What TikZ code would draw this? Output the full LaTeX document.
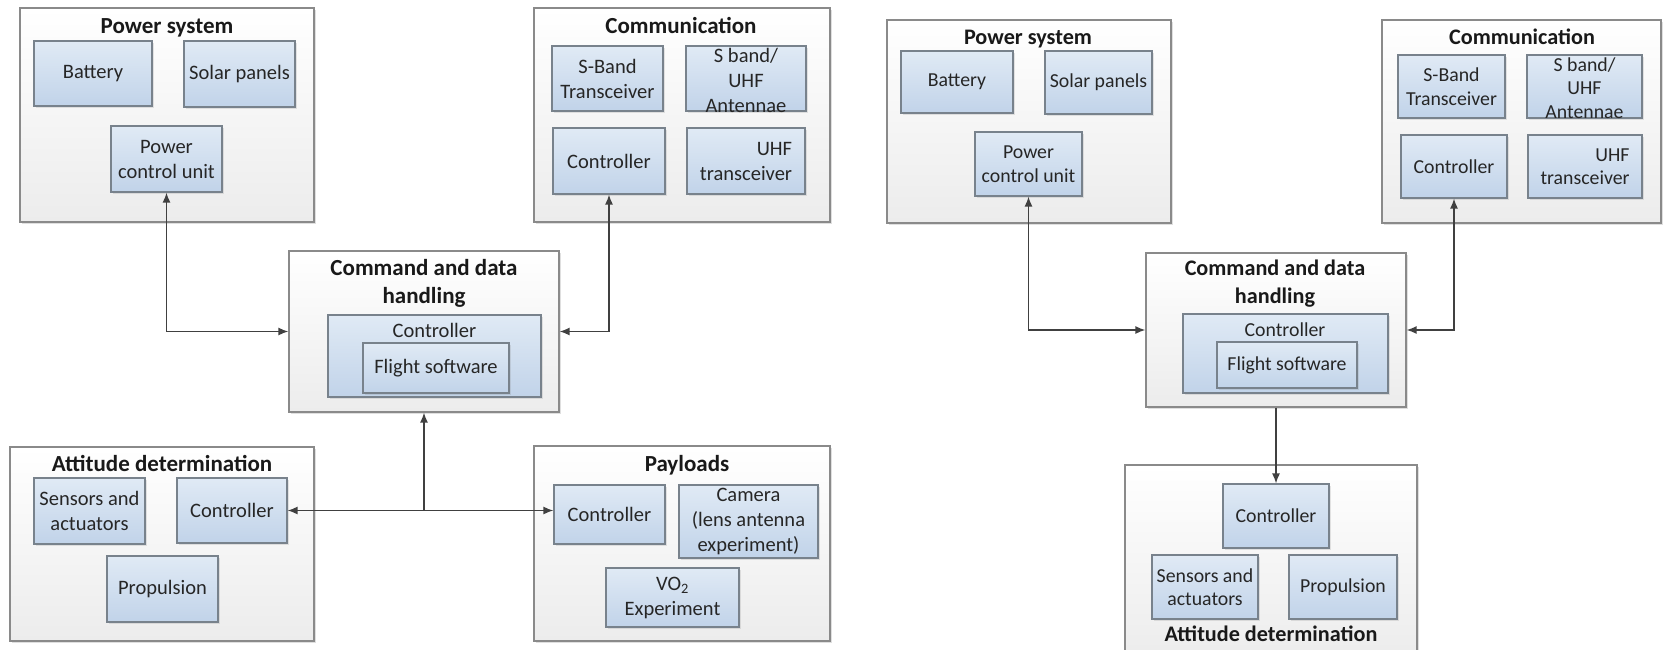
\documentclass[tikz,border=0pt]{standalone}
\usepackage{fontspec}
\setmainfont{Carlito}
\usepackage{tikz}
\usetikzlibrary{arrows.meta,shadows}
\definecolor{frameGrey}{RGB}{138,138,138}
\definecolor{panelBottom}{RGB}{236,236,236}
\definecolor{unitTop}{RGB}{224,234,245}
\definecolor{unitBottom}{RGB}{193,211,233}
\definecolor{unitEdge}{RGB}{120,130,140}
\definecolor{linkGrey}{RGB}{64,64,64}
\newcommand{\unitFont}[0]{\fontsize{20.5}{25}\selectfont}
\newcommand{\titleFont}[0]{\fontsize{23}{28}\selectfont\bfseries}
\newcommand{\unitFontR}[0]{\fontsize{19.8}{23.5}\selectfont}
\newcommand{\titleFontR}[0]{\fontsize{22.2}{28}\selectfont\bfseries}

\begin{document}
\begin{tikzpicture}[x=1pt, y=-1pt]
  \tikzset{panel/.style={draw=frameGrey, line width=1.2pt, top color=white, bottom color=panelBottom,
      drop shadow={shadow xshift=2pt, shadow yshift=-2pt, opacity=0.25}, inner sep=0pt},
    unit/.style={draw=unitEdge, line width=1.1pt, top color=unitTop, bottom color=unitBottom,
      drop shadow={shadow xshift=1.5pt, shadow yshift=-1.5pt, opacity=0.2},
      align=center, font=\unitFont, text=black!85, inner sep=0pt},
    heading/.style={font=\titleFont, text=black!90, align=center, anchor=base, inner sep=0pt},
    caption/.style={font=\unitFont, text=black!85, align=center, inner sep=0pt},
    link/.style={draw=linkGrey, line width=1.5pt, >={Latex[length=10pt,width=8pt]}}}
  \useasboundingbox (0,0) rectangle (1663,649);
  \fill[white] (0,0) rectangle (1663,649);

  \node[panel, minimum width=294, minimum height=214] (PWR-1) at (167,115) {};
  \node[panel, minimum width=296, minimum height=214] (COM-1) at (682,115) {};
  \node[panel, minimum width=270, minimum height=161] (CDH-1) at (424,331.5) {};
  \node[panel, minimum width=304, minimum height=194] (ADC-1) at (162,544) {};
  \node[panel, minimum width=296, minimum height=195] (PAY-1) at (682,543.5) {};
  \node[heading] (PWR-1-t) at (167,33) {Power system};
  \node[heading] (COM-1-t) at (681,33) {Communication};
  \node[heading] (CDH-1-t) at (424,303) {Command and data\\handling};
  \node[heading] (ADC-1-t) at (162,471) {Attitude determination};
  \node[heading] (PAY-1-t) at (687,471) {Payloads};
  \node[unit, minimum width=118, minimum height=65] (BAT-1) at (93,73.5) {Battery};
  \node[unit, minimum width=111, minimum height=66] (SOL-1) at (239.5,74) {Solar panels};
  \node[unit, minimum width=111, minimum height=66] (PCU-1) at (166.5,159) {Power\\control unit};
  \node[unit, minimum width=111, minimum height=65] (SBT-1) at (607.5,78.5) {S-Band\\Transceiver};
  \node[unit, minimum width=120, minimum height=65] (ANT-1) at (746,78.5) {};
  \node[caption] (ANT-1-t) at (746,80) {S band/\\UHF\hspace*{48pt}\\Antennae};
  \node[unit, minimum width=112, minimum height=66] (CTL-1) at (609,161) {Controller};
  \node[unit, minimum width=118, minimum height=66, align=right] (UHF-1) at (746,161) {UHF\\transceiver};
  \node[unit, minimum width=213, minimum height=82] (OBC-1) at (434.5,356) {};
  \node[caption, anchor=base] (OBC-1-t) at (434.5,337) {Controller};
  \node[unit, minimum width=146, minimum height=50] (FSW-1) at (436,368) {Flight software};
  \node[unit, minimum width=111, minimum height=66] (SEN-1) at (89.5,511) {Sensors and\\actuators};
  \node[unit, minimum width=110, minimum height=65] (ACS-1) at (232,510.5) {Controller};
  \node[unit, minimum width=111, minimum height=66] (PRP-1) at (162.5,589) {Propulsion};
  \node[unit, minimum width=111, minimum height=59] (PLC-1) at (609.5,514.5) {Controller};
  \node[unit, minimum width=139, minimum height=73] (CAM-1) at (748.5,521.5) {Camera\\(lens antenna\\experiment)};
  \node[unit, minimum width=133, minimum height=59] (VO2-1) at (672.5,597.5) {VO\textsubscript{2}\\Experiment};
  \coordinate (JN-1) at (ACS-1.east -| CDH-1.south);
  \draw[link, <->] (PCU-1.south) |- (CDH-1.west);
  \draw[link, <->] (CTL-1.south) |- (CDH-1.east);
  \draw[link, <->] (ACS-1.east) -- (ACS-1.east -| PLC-1.west);
  \draw[link, ->] (JN-1) -- (CDH-1.south);

  \begin{scope}[unit/.append style={font=\unitFontR}, caption/.append style={font=\unitFontR},
      heading/.append style={font=\titleFontR}]
    \node[panel, minimum width=284, minimum height=203] (PWR-2) at (1029,121.5) {};
    \node[panel, minimum width=279, minimum height=203] (COM-2) at (1521.5,121.5) {};
    \node[panel, minimum width=260, minimum height=154] (CDH-2) at (1276,330) {};
    \node[panel, minimum width=292, minimum height=195] (ADC-2) at (1271,562.5) {};
    \node[heading] (PWR-2-t) at (1028,44) {Power system};
    \node[heading] (COM-2-t) at (1522,44) {Communication};
    \node[heading] (CDH-2-t) at (1275,303) {Command and data\\handling};
    \node[heading] (ADC-2-t) at (1271,641) {Attitude determination};
    \node[unit, minimum width=112, minimum height=62] (BAT-2) at (957,82) {Battery};
    \node[unit, minimum width=107, minimum height=63] (SOL-2) at (1098.5,82.5) {Solar panels};
    \node[unit, minimum width=107, minimum height=64] (PCU-2) at (1028.5,164) {Power\\control unit};
    \node[unit, minimum width=107, minimum height=63] (SBT-2) at (1451.5,86.5) {S-Band\\Transceiver};
    \node[unit, minimum width=115, minimum height=63] (ANT-2) at (1584.5,86.5) {};
    \node[caption] (ANT-2-t) at (1584.5,88) {S band/\\UHF\hspace*{46pt}\\Antennae};
    \node[unit, minimum width=106, minimum height=63] (CTL-2) at (1454,166.5) {Controller};
    \node[unit, minimum width=114, minimum height=63, align=right] (UHF-2) at (1585,166.5) {UHF\\transceiver};
    \node[unit, minimum width=205, minimum height=79] (OBC-2) at (1285.5,353.5) {};
    \node[caption, anchor=base] (OBC-2-t) at (1285,336) {Controller};
    \node[unit, minimum width=140, minimum height=46] (FSW-2) at (1287,365) {Flight software};
    \node[unit, minimum width=106, minimum height=64] (ACS-2) at (1276,516) {Controller};
    \node[unit, minimum width=106, minimum height=64] (SEN-2) at (1205,587) {Sensors and\\actuators};
    \node[unit, minimum width=108, minimum height=64] (PRP-2) at (1343,587) {Propulsion};
    \draw[link, <->] (PCU-2.south) |- (CDH-2.west);
    \draw[link, <->] (CTL-2.south) |- (CDH-2.east);
    \draw[link, ->] (CDH-2.south) -- (ACS-2.north);
  \end{scope}
\end{tikzpicture}
\end{document}
